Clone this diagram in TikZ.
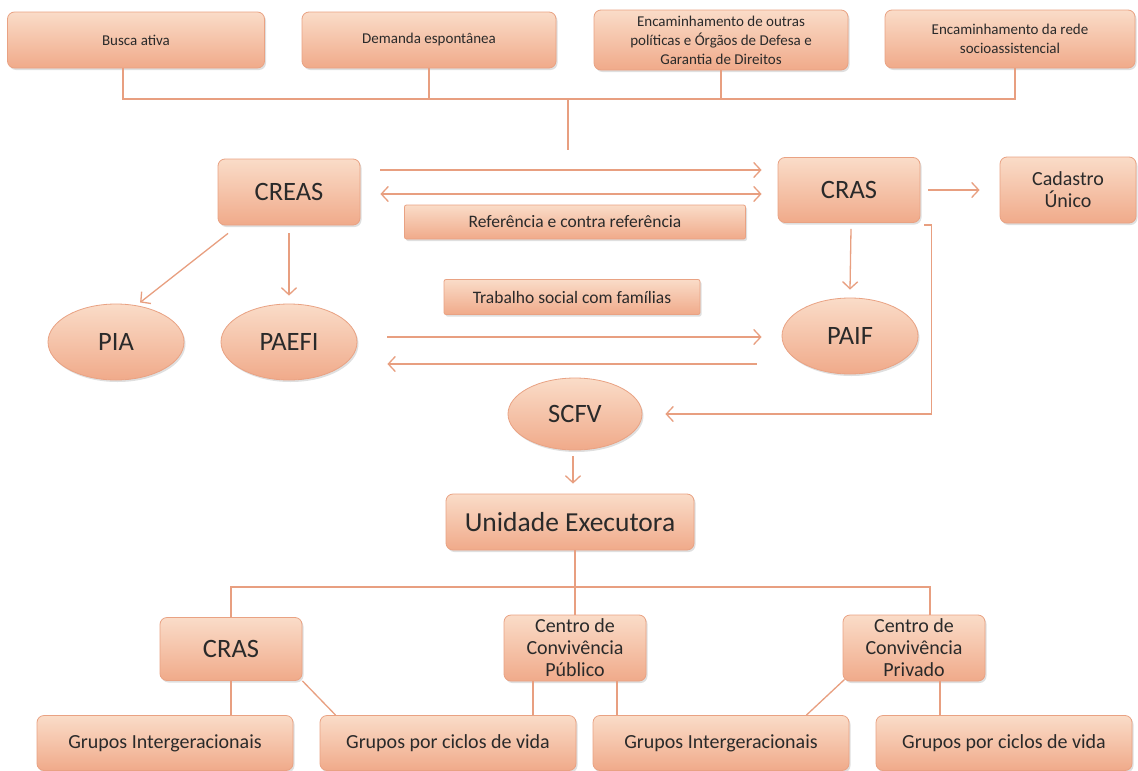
\documentclass[tikz,border=0pt]{standalone}
\usepackage{fontspec}
\setmainfont{Carlito}
\usetikzlibrary{shapes.geometric,arrows.meta,calc,shadows}
\definecolor{boxtop}{HTML}{FADCC8}
\definecolor{boxbot}{HTML}{F0AA8A}
\definecolor{edgec}{HTML}{E9A283}
\definecolor{linec}{HTML}{E89F80}
\definecolor{txt}{HTML}{2A2A2A}
\tikzset{
  base/.style={draw=edgec, line width=0.8pt, top color=boxtop, bottom color=boxbot,
    text=txt, align=center, inner sep=0pt,
    drop shadow={shadow xshift=1.5pt, shadow yshift=-2pt, opacity=0.25, fill=gray}},
  rbox/.style={base, rectangle, rounded corners=7pt},
  fbox/.style={base, rectangle, rounded corners=2pt},
  ell/.style={base, ellipse},
  ftop/.style={font=\fontsize{15}{19}\selectfont},
  fmid/.style={font=\fontsize{17.5}{21}\selectfont},
  fsub/.style={font=\fontsize{20}{22}\selectfont},
  fbig/.style={font=\fontsize{26.5}{30}\selectfont},
  conn/.style={draw=linec, line width=1.3pt},
  arr/.style={conn, -{Straight Barb[length=7pt,width=15pt,line width=1.3pt]}},
  darr/.style={conn, {Straight Barb[length=7pt,width=15pt,line width=1.3pt]}-{Straight Barb[length=7pt,width=15pt,line width=1.3pt]}},
}
\begin{document}
\begin{tikzpicture}[x=1pt,y=-1pt]
\fill[white] (0,0) rectangle (1138,771);
\useasboundingbox (0,0) rectangle (1138,771);

% top row
\node[rbox,ftop,minimum width=257,minimum height=56] (busca) at (136,40) {Busca ativa};
\node[rbox,ftop,minimum width=254,minimum height=56] (demanda) at (429,40) {Demanda espontânea};
\node[rbox,ftop,minimum width=254,minimum height=60] (encout) at (721,40) {Encaminhamento de outras\\políticas e Órgãos de Defesa e\\Garantia de Direitos};
\node[rbox,ftop,minimum width=250,minimum height=58] (encrede) at (1010,39) {Encaminhamento da rede\\socioassistencial};

% middle
\node[rbox,fbig,minimum width=142,minimum height=66] (creas) at (289,192) {CREAS};
\node[fbox,fmid,minimum width=341,minimum height=34] (ref) at (575,222) {Referência e contra referência};
\node[rbox,fbig,minimum width=142,minimum height=65] (cras) at (849,190) {CRAS};
\node[rbox,fsub,minimum width=136,minimum height=66] (cad) at (1068,190) {Cadastro\\Único};
\node[ell,fbig,minimum width=136,minimum height=76] (pia) at (116,342) {PIA};
\node[ell,fbig,minimum width=136,minimum height=76] (paefi) at (289,342) {PAEFI};
\node[fbox,fmid,minimum width=256,minimum height=35] (trab) at (572,297) {Trabalho social com famílias};
\node[ell,fbig,minimum width=136,minimum height=76] (paif) at (850,336) {PAIF};
\node[ell,fbig,minimum width=134,minimum height=72] (scfv) at (575,414) {SCFV};
\node[rbox,fbig,font=\fontsize{27.5}{30}\selectfont,minimum width=248,minimum height=56] (unid) at (570,522) {Unidade Executora};

% lower level
\node[rbox,fbig,minimum width=142,minimum height=63] (cras2) at (231,649) {CRAS};
\node[rbox,fsub,minimum width=142,minimum height=66] (cpub) at (575,648) {Centro de\\Convivência\\Público};
\node[rbox,fsub,minimum width=142,minimum height=66] (cpriv) at (914,648) {Centro de\\Convivência\\Privado};
\node[rbox,fsub,minimum width=256,minimum height=55] (g1) at (165,743) {Grupos Intergeracionais};
\node[rbox,fsub,minimum width=256,minimum height=55] (g2) at (448,743) {Grupos por ciclos de vida};
\node[rbox,fsub,minimum width=256,minimum height=55] (g3) at (721,743) {Grupos Intergeracionais};
\node[rbox,fsub,minimum width=256,minimum height=55] (g4) at (1004,743) {Grupos por ciclos de vida};

% top connectors
\coordinate (hub) at (568,99);
\coordinate (hubend) at (568,150);
\draw[conn] ($(busca.south)+(-13,0)$) |- (hub);
\draw[conn] (demanda.south) |- (hub);
\draw[conn] (encout.south) |- (hub);
\draw[conn] ($(encrede.south)+(5,0)$) |- (hub);
\draw[conn] (hub) -- (hubend);

% CREAS <-> CRAS
\draw[arr] ($(creas.east)+(20,-22)$) -- ($(cras.west)+(-16,-20)$);
\draw[darr] ($(creas.east)+(20,2)$) -- ($(cras.west)+(-16,4)$);
\draw[arr] ($(cras.east)+(8,0)$) -- ($(cad.west)+(-20,0)$);

% CREAS children
\draw[arr] ($(creas.south)+(-61,8)$) -- ($(pia.60)+(3,-3)$);
\draw[arr] ($(creas.south)+(0,8)$) -- ($(paefi.north)+(0,-8)$);
\draw[arr] ($(cras.south)+(2,6)$) -- ($(paif.north)+(0,-8)$);

% PAEFI <-> PAIF
\draw[arr] ($(paefi.east)+(30,-5)$) -- ($(paif.west)+(-20,1)$);
\draw[arr] ($(paif.west)+(-25,28)$) -- ($(paefi.east)+(30,22)$);

% CRAS -> SCFV
\draw[arr] ($(cras.south east)+(4,2)$) -- ++(7,0) |- ($(scfv.east)+(23,0)$);

% SCFV -> Unidade
\draw[arr] ($(scfv.south)+(-2,6)$) -- ($(unid.north)+(3,-10)$);

% Unidade tree
\coordinate (tree) at (575,587);
\draw[conn] (unid.south -| cpub.north) -- (cpub.north);
\draw[conn] (cras2.north) |- (tree) -| ($(cpriv.north)+(16,0)$);

% bottom connectors
\coordinate (p1) at ($(cpub.south)+(-42,0)$);
\coordinate (p2) at ($(cpub.south)+(42,0)$);
\coordinate (p3) at ($(cpriv.south)+(26,0)$);
\draw[conn] (cras2.south) -- (cras2.south |- g1.north);
\draw[conn] (cras2.south east) -- ($(g2.north west)+(16,0)$);
\draw[conn] (p1) -- (p1 |- g2.north);
\draw[conn] (p2) -- (p2 |- g3.north);
\draw[conn] ($(cpriv.south west)+(2,-2)$) -- ($(g3.north east)+(-43,0)$);
\draw[conn] (p3) -- (p3 |- g4.north);
\end{tikzpicture}
\end{document}
